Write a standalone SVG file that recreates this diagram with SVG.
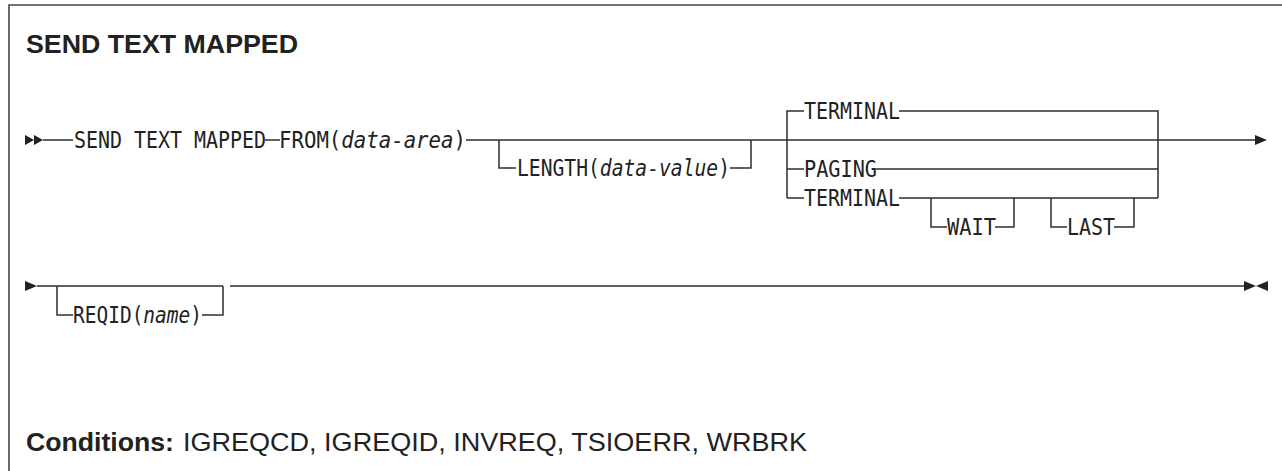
<svg xmlns="http://www.w3.org/2000/svg" width="1282" height="471" viewBox="0 0 1282 471">
<style>
.bg{fill:#ffffff}
.frame{fill:none;stroke:#444;stroke-width:1.6}
.ln{fill:none;stroke:#2e2e2e;stroke-width:1.5}
.ah{fill:#222;stroke:none}
.kw{font-family:"DejaVu Sans Mono",monospace;font-size:23px;fill:#222}
.it{font-style:italic}
.title{font-family:"Liberation Sans",Arial,sans-serif;font-weight:bold;font-size:25px;fill:#222}
.cond{font-family:"Liberation Sans",Arial,sans-serif;font-size:25px;fill:#222}
.b{font-weight:bold}
</style>
<rect class="bg" x="0" y="0" width="1282" height="471"/>
<path class="frame" d="M9,471 V5 H1282"/>
<g id="title"><text class="title" x="26" y="53" textLength="272" lengthAdjust="spacingAndGlyphs">SEND TEXT MAPPED</text></g>

<g id="connectors">
  <path class="ln" d="M43,140 H73 M265,140 H280 M466,140 H1256"/>
  <path class="ln" d="M499,140 V168 H516 M730,168 H751 V140"/>
  <path class="ln" d="M787,198 V111 H804 M899,111 H1158 V198 M787,169 H804 M876,169 H1158 M787,198 H804 M899,198 H1158"/>
  <path class="ln" d="M931,198 V227 H947 M995,227 H1014 V198"/>
  <path class="ln" d="M1051,198 V227 H1067 M1114,227 H1134 V198"/>
  <path class="ln" d="M37,286 H223 M230,286 H1245"/>
  <path class="ln" d="M57,286 V315 H73 M202,315 H223 V286"/>
  <polygon class="ah" points="25,135 34,140 25,145"/>
  <polygon class="ah" points="34,135 43,140 34,145"/>
  <polygon class="ah" points="1255,135 1267,140 1255,145"/>
  <polygon class="ah" points="25,281 37,286 25,291"/>
  <polygon class="ah" points="1244,281 1256,286 1244,291"/>
  <polygon class="ah" points="1268,281 1256,286 1268,291"/>
</g>

<g id="n-send"><text class="kw" x="74" y="148" textLength="192" lengthAdjust="spacingAndGlyphs">SEND TEXT MAPPED</text></g>
<g id="n-from"><text class="kw" x="279" y="148" textLength="187" lengthAdjust="spacingAndGlyphs">FROM(<tspan class="it">data-area</tspan>)</text></g>
<g id="n-length"><text class="kw" x="517" y="176" textLength="213" lengthAdjust="spacingAndGlyphs">LENGTH(<tspan class="it">data-value</tspan>)</text></g>
<g id="n-terminal1"><text class="kw" x="804" y="119" textLength="96" lengthAdjust="spacingAndGlyphs">TERMINAL</text></g>
<g id="n-paging"><text class="kw" x="804" y="177" textLength="73" lengthAdjust="spacingAndGlyphs">PAGING</text></g>
<g id="n-terminal2"><text class="kw" x="804" y="206" textLength="96" lengthAdjust="spacingAndGlyphs">TERMINAL</text></g>
<g id="n-wait"><text class="kw" x="947" y="235" textLength="49" lengthAdjust="spacingAndGlyphs">WAIT</text></g>
<g id="n-last"><text class="kw" x="1067" y="235" textLength="48" lengthAdjust="spacingAndGlyphs">LAST</text></g>
<g id="n-reqid"><text class="kw" x="73" y="323" textLength="129" lengthAdjust="spacingAndGlyphs">REQID(<tspan class="it">name</tspan>)</text></g>

<g id="conditions">
  <text class="cond b" x="26" y="451" textLength="148" lengthAdjust="spacingAndGlyphs">Conditions:</text>
  <text class="cond" x="183" y="451" textLength="624" lengthAdjust="spacingAndGlyphs">IGREQCD, IGREQID, INVREQ, TSIOERR, WRBRK</text>
</g>
</svg>
